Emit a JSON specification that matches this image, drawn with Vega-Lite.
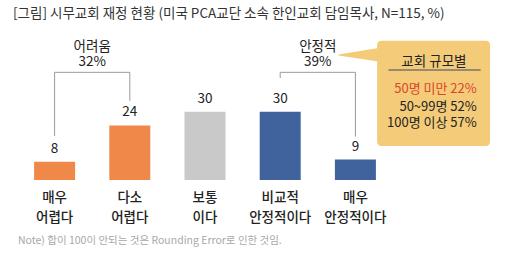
{
  "$schema": "https://vega.github.io/schema/vega-lite/v6.json",
  "width": 386,
  "height": 159,
  "autosize": {"type": "none"},
  "padding": {"left": 12, "top": 21, "right": 122, "bottom": 79},
  "background": "white",
  "config": {"view": {"stroke": null}, "font": "Noto Sans CJK KR"},
  "title": {
    "text": "[그림] 시무교회 재정 현황 (미국 PCA교단 소속 한인교회 담임목사, N=115, %)",
    "anchor": "start", "frame": "group", "fontSize": 13.5, "fontWeight": "normal",
    "color": "#333333", "offset": 1, "dx": 1, "font": "Noto Sans CJK KR"
  },
  "datasets": {
    "bars": [
      {"no": 1, "label": "매우\n어렵다", "value": 8, "group": "어려움"},
      {"no": 2, "label": "다소\n어렵다", "value": 24, "group": "어려움"},
      {"no": 3, "label": "보통\n이다", "value": 30, "group": "보통"},
      {"no": 4, "label": "비교적\n안정적이다", "value": 30, "group": "안정적"},
      {"no": 5, "label": "매우\n안정적이다", "value": 9, "group": "안정적"}
    ],
    "brackets": [
      {"b": "어려움", "ord": 1, "x": 1, "y": 19.4},
      {"b": "어려움", "ord": 2, "x": 1, "y": 47.4},
      {"b": "어려움", "ord": 3, "x": 2, "y": 47.4},
      {"b": "어려움", "ord": 4, "x": 2, "y": 34.9},
      {"b": "안정적", "ord": 1, "x": 4, "y": 44.9},
      {"b": "안정적", "ord": 2, "x": 4, "y": 47.4},
      {"b": "안정적", "ord": 3, "x": 5, "y": 47.4},
      {"b": "안정적", "ord": 4, "x": 5, "y": 19.1}
    ],
    "bracketLabels": [
      {"x": 1.5, "y": 47.4, "text": "어려움\n32%"},
      {"x": 4.5, "y": 47.4, "text": "안정적\n39%"}
    ],
    "box": [{"x": 5.289, "x2": 6.791, "y": 61.3, "y2": 15.0}],
    "pointer": [
      {"x": 4.775, "y": 55.2, "y2": 54.8},
      {"x": 5.35, "y": 58.3, "y2": 52.0}
    ],
    "boxTitle": [{"x": 6.044, "y": 51.95, "text": "교회 규모별"}],
    "underline": [{"x": 5.44, "x2": 6.666, "y": 48.43}],
    "boxLines": [
      {"x": 6.614, "y": 39.93, "text": "50명 미만 22%", "hl": true},
      {"x": 6.614, "y": 32.0, "text": "50~99명 52%", "hl": false},
      {"x": 6.614, "y": 24.96, "text": "100명 이상 57%", "hl": false}
    ],
    "note": [{"text": "Note) 합이 100이 안되는 것은 Rounding Error로 인한 것임."}]
  },
  "layer": [
    {
      "data": {"name": "bars"},
      "mark": {"type": "bar", "size": 41, "orient": "vertical"},
      "encoding": {
        "x": {"field": "no", "type": "quantitative",
          "scale": {"domain": [0.5, 5.5], "nice": false, "zero": false},
          "axis": {"domain": true, "domainColor": "#c8c8c8", "domainWidth": 1.2, "ticks": false, "labels": false, "grid": false, "title": null}},
        "y": {"field": "value", "type": "quantitative", "stack": null,
          "scale": {"domain": [0, 70], "nice": false}, "axis": null},
        "color": {"field": "group", "type": "nominal",
          "scale": {"domain": ["어려움", "보통", "안정적"], "range": ["#F0884A", "#C9C9C9", "#41639D"]}, "legend": null}
      }
    },
    {
      "data": {"name": "bars"},
      "mark": {"type": "text", "dy": -13, "fontSize": 13.5, "color": "#222222", "baseline": "middle"},
      "encoding": {
        "x": {"field": "no", "type": "quantitative", "scale": {"domain": [0.5, 5.5], "nice": false, "zero": false}, "axis": null},
        "y": {"field": "value", "type": "quantitative", "stack": null, "scale": {"domain": [0, 70], "nice": false}, "axis": null},
        "text": {"field": "value", "type": "quantitative"}
      }
    },
    {
      "data": {"name": "bars"},
      "mark": {"type": "text", "dy": 11, "fontSize": 13.5, "fontWeight": 500, "color": "#222222", "baseline": "top", "lineBreak": "\n", "lineHeight": 20},
      "encoding": {
        "x": {"field": "no", "type": "quantitative", "scale": {"domain": [0.5, 5.5], "nice": false, "zero": false}, "axis": null},
        "y": {"datum": 0, "type": "quantitative", "scale": {"domain": [0, 70], "nice": false}, "axis": null},
        "text": {"field": "label"}
      }
    },
    {
      "data": {"name": "note"},
      "mark": {"type": "text", "dx": 1, "dy": 61, "fontSize": 10.5, "color": "#a8a8a8", "baseline": "middle", "align": "left"},
      "encoding": {
        "x": {"datum": 0.5, "type": "quantitative", "scale": {"domain": [0.5, 5.5], "nice": false, "zero": false}, "axis": null},
        "y": {"datum": 0, "type": "quantitative", "scale": {"domain": [0, 70], "nice": false}, "axis": null},
        "text": {"field": "text"}
      }
    },
    {
      "data": {"name": "brackets"},
      "mark": {"type": "line", "color": "#9a9a9a", "strokeWidth": 1},
      "encoding": {
        "x": {"field": "x", "type": "quantitative", "scale": {"domain": [0.5, 5.5], "nice": false, "zero": false}, "axis": null},
        "y": {"field": "y", "type": "quantitative", "scale": {"domain": [0, 70], "nice": false}, "axis": null},
        "detail": {"field": "b"},
        "order": {"field": "ord"}
      }
    },
    {
      "data": {"name": "bracketLabels"},
      "mark": {"type": "text", "dy": -25, "fontSize": 13.5, "color": "#222222", "baseline": "middle", "lineBreak": "\n", "lineHeight": 15},
      "encoding": {
        "x": {"field": "x", "type": "quantitative", "scale": {"domain": [0.5, 5.5], "nice": false, "zero": false}, "axis": null},
        "y": {"field": "y", "type": "quantitative", "scale": {"domain": [0, 70], "nice": false}, "axis": null},
        "text": {"field": "text"}
      }
    },
    {
      "data": {"name": "pointer"},
      "mark": {"type": "area", "color": "#F4CB79", "orient": "vertical"},
      "encoding": {
        "x": {"field": "x", "type": "quantitative", "scale": {"domain": [0.5, 5.5], "nice": false, "zero": false}, "axis": null},
        "y": {"field": "y", "type": "quantitative", "stack": null, "scale": {"domain": [0, 70], "nice": false}, "axis": null},
        "y2": {"field": "y2"}
      }
    },
    {
      "data": {"name": "box"},
      "mark": {"type": "rect", "color": "#F4CB79", "cornerRadius": 4},
      "encoding": {
        "x": {"field": "x", "type": "quantitative", "scale": {"domain": [0.5, 5.5], "nice": false, "zero": false}, "axis": null},
        "x2": {"field": "x2"},
        "y": {"field": "y", "type": "quantitative", "scale": {"domain": [0, 70], "nice": false}, "axis": null},
        "y2": {"field": "y2"}
      }
    },
    {
      "data": {"name": "boxTitle"},
      "mark": {"type": "text", "fontSize": 13.5, "color": "#222222", "baseline": "middle", "align": "center"},
      "encoding": {
        "x": {"field": "x", "type": "quantitative", "scale": {"domain": [0.5, 5.5], "nice": false, "zero": false}, "axis": null},
        "y": {"field": "y", "type": "quantitative", "scale": {"domain": [0, 70], "nice": false}, "axis": null},
        "text": {"field": "text"}
      }
    },
    {
      "data": {"name": "underline"},
      "mark": {"type": "rule", "color": "#3b4a68", "strokeWidth": 1.2},
      "encoding": {
        "x": {"field": "x", "type": "quantitative", "scale": {"domain": [0.5, 5.5], "nice": false, "zero": false}, "axis": null},
        "x2": {"field": "x2"},
        "y": {"field": "y", "type": "quantitative", "scale": {"domain": [0, 70], "nice": false}, "axis": null}
      }
    },
    {
      "data": {"name": "boxLines"},
      "mark": {"type": "text", "fontSize": 13, "baseline": "middle", "align": "right"},
      "encoding": {
        "x": {"field": "x", "type": "quantitative", "scale": {"domain": [0.5, 5.5], "nice": false, "zero": false}, "axis": null},
        "y": {"field": "y", "type": "quantitative", "scale": {"domain": [0, 70], "nice": false}, "axis": null},
        "text": {"field": "text"},
        "color": {"condition": {"test": "datum.hl", "value": "#D9482B"}, "value": "#222222"}
      }
    }
  ]
}
